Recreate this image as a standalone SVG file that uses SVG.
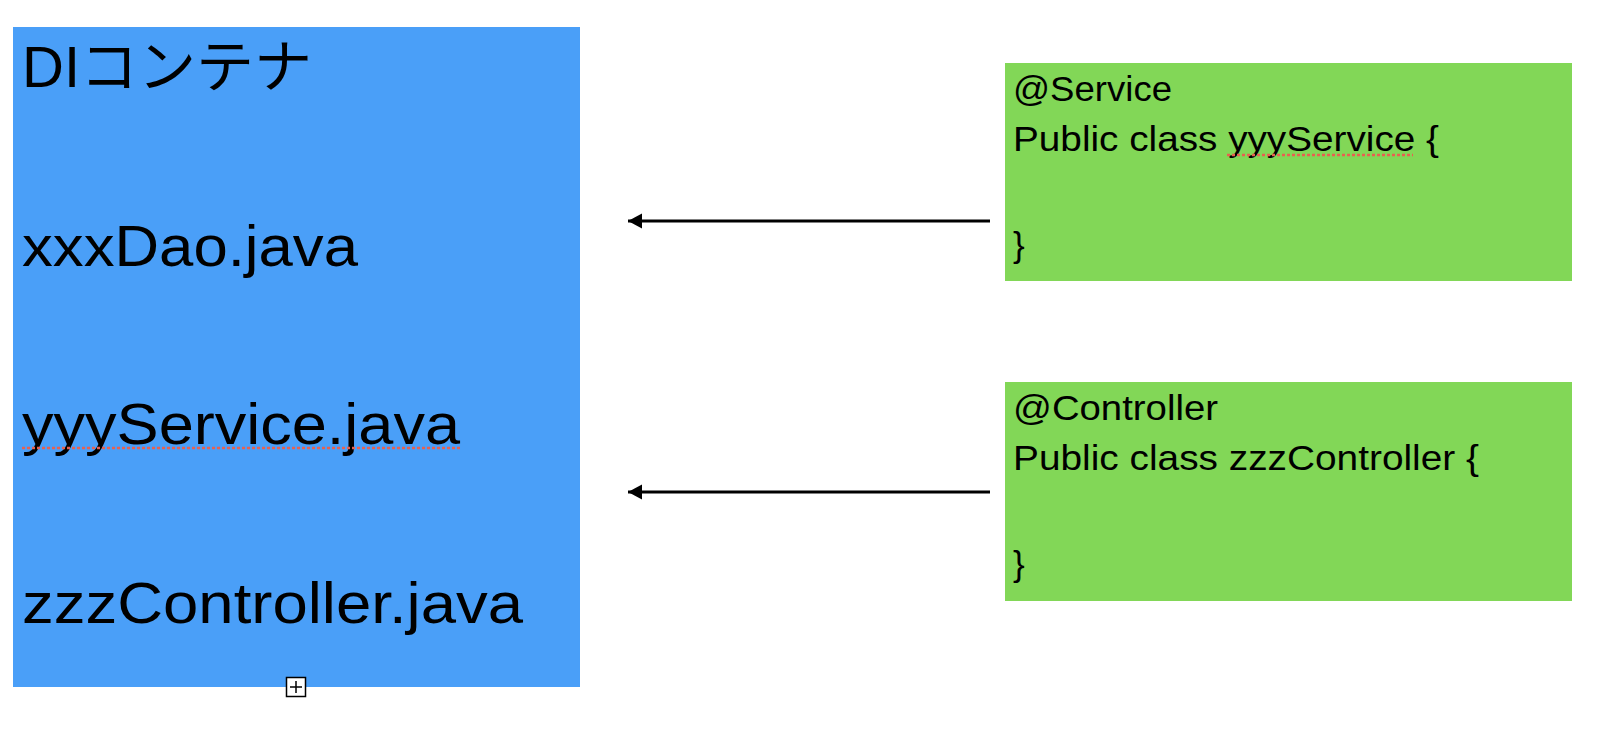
<svg xmlns="http://www.w3.org/2000/svg" width="1604" height="750" viewBox="0 0 1604 750">
<defs>
<style>
.big{font-family:"Liberation Sans","Noto Sans CJK JP",sans-serif;font-size:57px;fill:#000}
.code{font-family:"Liberation Sans","Noto Sans CJK JP",sans-serif;font-size:35px;fill:#000}
.conn{stroke:#000;stroke-width:3;fill:none}
.spell{stroke:#e8604f;stroke-width:2.5;stroke-dasharray:3 2;fill:none}
</style>
<marker id="ah" markerUnits="userSpaceOnUse" markerWidth="16" markerHeight="16" viewBox="0 0 16 16" refX="15" refY="8" orient="auto">
<path d="M1,0.5 L15,8 L1,15.5 Z" fill="#000"/>
</marker>
</defs>
<rect width="1604" height="750" fill="#fff"/>
<g id="di-container">
<rect x="13" y="27" width="567" height="660" fill="#4a9ff8"/>
<text class="big" x="22" y="87" textLength="290" lengthAdjust="spacingAndGlyphs">DIコンテナ</text>
<text class="big" x="22" y="266" textLength="336" lengthAdjust="spacingAndGlyphs">xxxDao.java</text>
<text class="big" x="22" y="444" textLength="438" lengthAdjust="spacingAndGlyphs">yyyService.java</text>
<line class="spell" x1="22" y1="448" x2="460" y2="448"/>
<text class="big" x="22" y="623" textLength="501" lengthAdjust="spacingAndGlyphs">zzzController.java</text>
<g id="plus-icon">
<rect x="286.5" y="677.5" width="19" height="19" fill="#fff" stroke="#000" stroke-width="1.5"/>
<path d="M290,687 H302 M296,681 V693" stroke="#000" stroke-width="1.5"/>
</g>
</g>
<g id="service-class">
<rect x="1005" y="63" width="567" height="218" fill="#82d757"/>
<text class="code" x="1013" y="101" textLength="159" lengthAdjust="spacingAndGlyphs">@Service</text>
<text class="code" x="1013" y="151" textLength="426" lengthAdjust="spacingAndGlyphs">Public class yyyService {</text>
<line class="spell" x1="1227" y1="155" x2="1413" y2="155"/>
<text class="code" x="1013" y="257">}</text>
</g>
<g id="controller-class">
<rect x="1005" y="382" width="567" height="219" fill="#82d757"/>
<text class="code" x="1013" y="420" textLength="205" lengthAdjust="spacingAndGlyphs">@Controller</text>
<text class="code" x="1013" y="470" textLength="466" lengthAdjust="spacingAndGlyphs">Public class zzzController {</text>
<text class="code" x="1013" y="576">}</text>
</g>
<g id="connectors">
<line class="conn" x1="990" y1="221" x2="628" y2="221" marker-end="url(#ah)"/>
<line class="conn" x1="990" y1="492" x2="628" y2="492" marker-end="url(#ah)"/>
</g>
</svg>
